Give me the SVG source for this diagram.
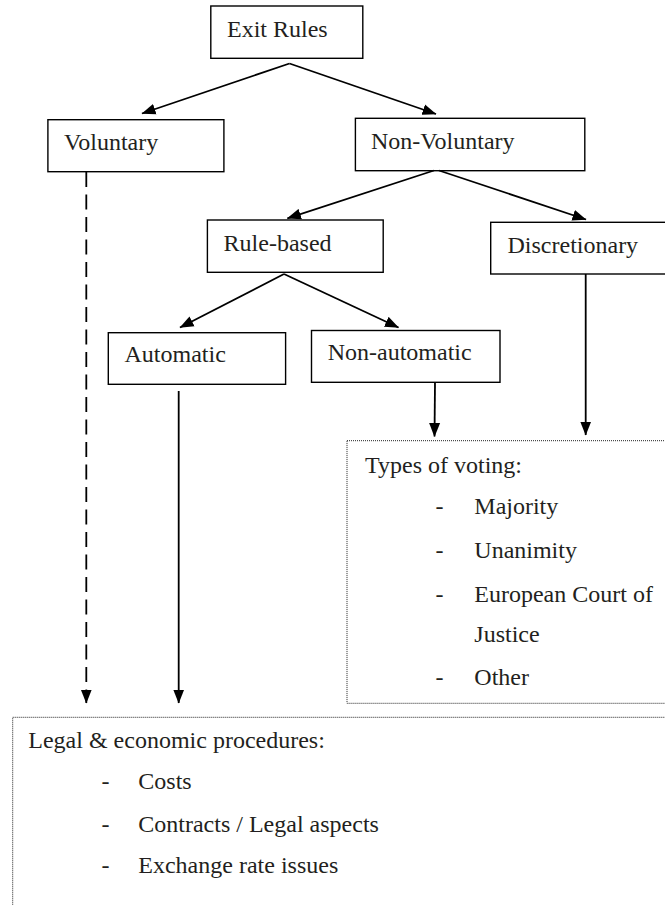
<svg xmlns="http://www.w3.org/2000/svg" width="665" height="905" viewBox="0 0 665 905">
  <style>
    .box { fill: #ffffff; stroke: #000000; stroke-width: 1.4; }
    .dot { fill: #ffffff; stroke: #222222; stroke-width: 1; stroke-dasharray: 1 1; }
    .t { font-family: "Liberation Serif", "Times New Roman", serif; font-size: 24px; fill: #231f20; }
    .c { fill: none; stroke: #000000; stroke-width: 1.8; }
    .dash { stroke-dasharray: 15 7.5; }
  </style>
  <defs>
    <marker id="ah" markerUnits="userSpaceOnUse" markerWidth="14" markerHeight="12" viewBox="0 0 14 12" refX="13.5" refY="6" orient="auto">
      <path d="M0,0.5 L14,6 L0,11.5 Z" fill="#000000"/>
    </marker>
  </defs>
  <rect x="0" y="0" width="665" height="905" fill="#ffffff"/>

  <g id="exit-rules">
    <rect class="box" x="210.8" y="6" width="152" height="52.3"/>
    <text class="t" x="227" y="36.7">Exit Rules</text>
  </g>
  <g id="voluntary">
    <rect class="box" x="47.9" y="119.7" width="176" height="52"/>
    <text class="t" x="64" y="150">Voluntary</text>
  </g>
  <g id="non-voluntary">
    <rect class="box" x="355.4" y="118.3" width="229.4" height="52.4"/>
    <text class="t" x="371" y="149">Non-Voluntary</text>
  </g>
  <g id="rule-based">
    <rect class="box" x="207.4" y="220" width="175.8" height="52.3"/>
    <text class="t" x="223.6" y="251">Rule-based</text>
  </g>
  <g id="discretionary">
    <rect class="box" x="490.7" y="222.3" width="200" height="51.7"/>
    <text class="t" x="507.5" y="253">Discretionary</text>
  </g>
  <g id="automatic">
    <rect class="box" x="108.3" y="332.7" width="177.3" height="51.6"/>
    <text class="t" x="124.5" y="362.3">Automatic</text>
  </g>
  <g id="non-automatic">
    <rect class="box" x="311.5" y="330.5" width="188.5" height="51.8"/>
    <text class="t" x="327.7" y="360">Non-automatic</text>
  </g>
  <g id="types-of-voting">
    <rect class="dot" x="347" y="440.7" width="330" height="262.6"/>
    <text class="t" x="365" y="473.3">Types of voting:</text>
    <text class="t" x="435.5" y="514.3">-</text>
    <text class="t" x="474.3" y="514.3">Majority</text>
    <text class="t" x="435.5" y="557.7">-</text>
    <text class="t" x="474.3" y="557.7">Unanimity</text>
    <text class="t" x="435.5" y="601.7">-</text>
    <text class="t" x="474.3" y="601.7">European Court of</text>
    <text class="t" x="474.3" y="642.3">Justice</text>
    <text class="t" x="435.5" y="685">-</text>
    <text class="t" x="474.3" y="685">Other</text>
  </g>
  <g id="legal-economic">
    <rect class="dot" x="12.7" y="717.3" width="670" height="200"/>
    <text class="t" x="28.3" y="747.7">Legal &amp; economic procedures:</text>
    <text class="t" x="101.5" y="789.3">-</text>
    <text class="t" x="138.3" y="789.3">Costs</text>
    <text class="t" x="101.5" y="831.7">-</text>
    <text class="t" x="138.3" y="831.7">Contracts / Legal aspects</text>
    <text class="t" x="101.5" y="873.3">-</text>
    <text class="t" x="138.3" y="873.3">Exchange rate issues</text>
  </g>

  <g id="connectors">
    <line class="c" x1="289.5" y1="63.5" x2="142" y2="113.5" marker-end="url(#ah)"/>
    <line class="c" x1="289.5" y1="63.5" x2="436" y2="114" marker-end="url(#ah)"/>
    <line class="c" x1="434" y1="170.5" x2="287.4" y2="218.3" marker-end="url(#ah)"/>
    <line class="c" x1="439" y1="170.5" x2="586" y2="219.5" marker-end="url(#ah)"/>
    <line class="c" x1="284" y1="274" x2="180" y2="327.5" marker-end="url(#ah)"/>
    <line class="c" x1="284" y1="274" x2="398.5" y2="327.5" marker-end="url(#ah)"/>
    <line class="c" x1="435" y1="382.5" x2="434.5" y2="436.5" marker-end="url(#ah)"/>
    <line class="c" x1="585.7" y1="274" x2="585.7" y2="435" marker-end="url(#ah)"/>
    <line class="c" x1="178.7" y1="391" x2="178.7" y2="703" marker-end="url(#ah)"/>
    <line class="c dash" x1="86.3" y1="172" x2="86.3" y2="703" marker-end="url(#ah)"/>
  </g>
</svg>
